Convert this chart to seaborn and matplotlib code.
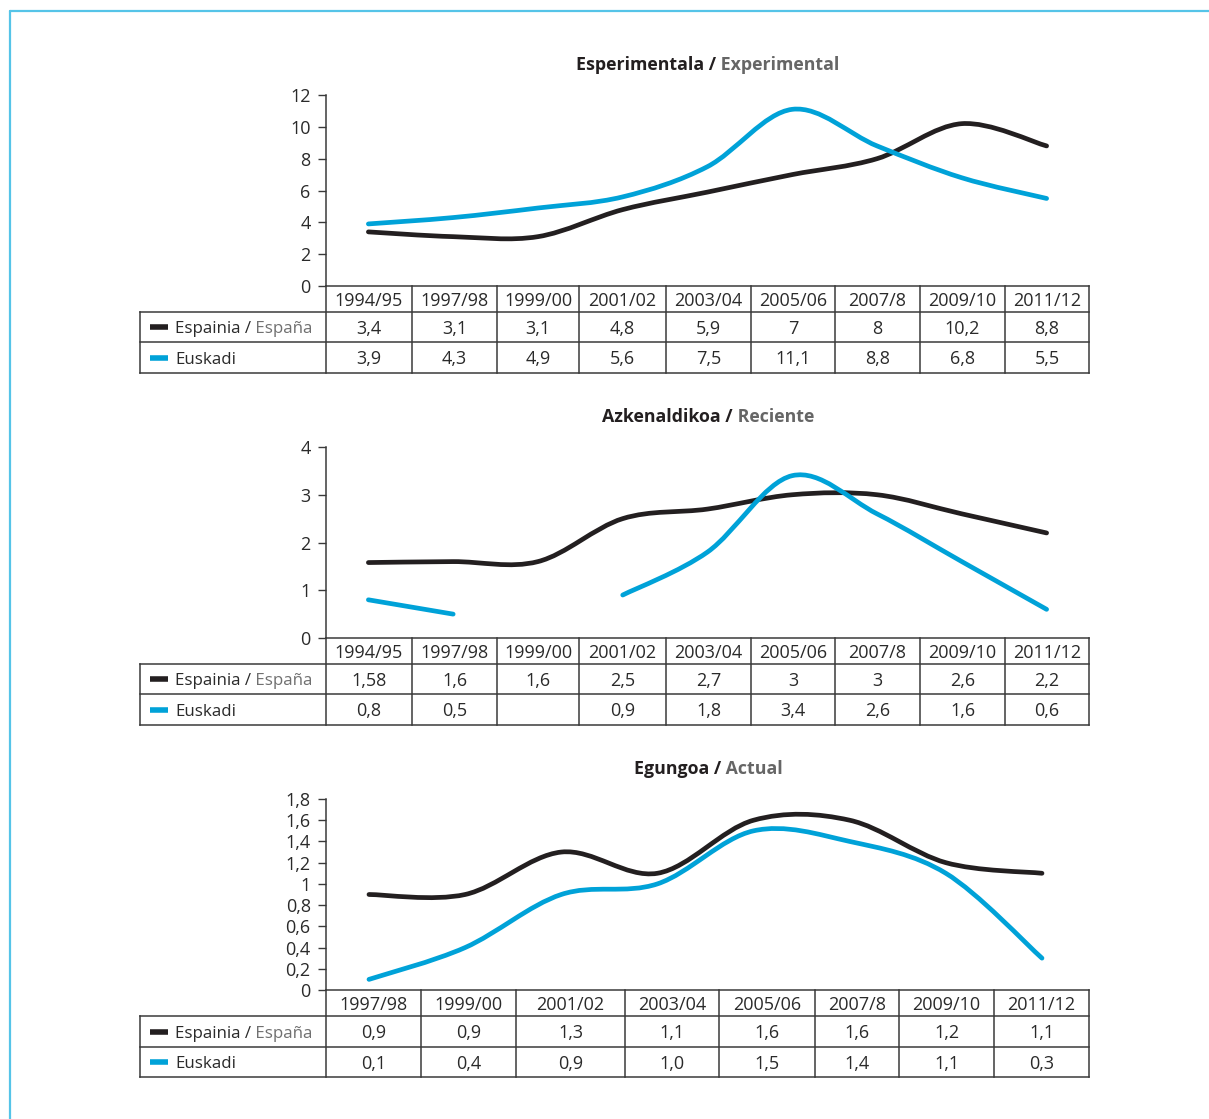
import matplotlib
matplotlib.use("Agg")
import numpy as np
import pandas as pd
import matplotlib.pyplot as plt
import seaborn as sns
from matplotlib.lines import Line2D
from matplotlib.path import Path
from matplotlib.patheffects import AbstractPathEffect
from matplotlib.transforms import IdentityTransform

# ---------------- data ----------------
periods_long = ["1994/95", "1997/98", "1999/00", "2001/02", "2003/04",
                "2005/06", "2007/8", "2009/10", "2011/12"]
periods_short = ["1997/98", "1999/00", "2001/02", "2003/04",
                 "2005/06", "2007/8", "2009/10", "2011/12"]

exp_spain = [3.4, 3.1, 3.1, 4.8, 5.9, 7, 8, 10.2, 8.8]
exp_euskadi = [3.9, 4.3, 4.9, 5.6, 7.5, 11.1, 8.8, 6.8, 5.5]

rec_spain = [1.58, 1.6, 1.6, 2.5, 2.7, 3, 3, 2.6, 2.2]
rec_euskadi = [0.8, 0.5, None, 0.9, 1.8, 3.4, 2.6, 1.6, 0.6]

act_spain = [0.9, 0.9, 1.3, 1.1, 1.6, 1.6, 1.2, 1.1]
act_euskadi = [0.1, 0.4, 0.9, 1.0, 1.5, 1.4, 1.1, 0.3]

titles = [("Esperimentala /", " Experimental"),
          ("Azkenaldikoa /", " Reciente"),
          ("Egungoa /", " Actual")]
y_ticks = [[0, 2, 4, 6, 8, 10, 12],
           [0, 1, 2, 3, 4],
           [0, 0.2, 0.4, 0.6, 0.8, 1, 1.2, 1.4, 1.6, 1.8]]

# ---------------- style ----------------
sns.set_theme(style="ticks")
plt.rcParams["font.family"] = ["Open Sans", "DejaVu Sans"]

BLACK = "#231f20"
BLUE = "#00a2d8"
GRAY = "#707070"
TEXT = "#2a2a2a"
GRID = "#3a3a3a"
FRAME = "#55c4e8"
FS = 13
FS_LABEL = 12.2
FS_TITLE = 12.8

W, H = 1209, 1119
fig = plt.figure(figsize=(W / 100, H / 100), dpi=100)
fig.patch.set_facecolor("white")


def px_axes(x0, y0, x1, y1):
    return fig.add_axes([x0 / W, 1 - y1 / H, (x1 - x0) / W, (y1 - y0) / H])


class SmoothCurve(AbstractPathEffect):
    """Renders a polyline as a smooth Catmull-Rom style Bezier curve."""

    def draw_path(self, renderer, gc, tpath, affine, rgbFace=None):
        pts = affine.transform(tpath.vertices)
        pts = pts[np.isfinite(pts).all(axis=1)]
        if len(pts) < 3:
            renderer.draw_path(gc, Path(pts), IdentityTransform(), rgbFace)
            return
        p = np.vstack([pts[0], pts, pts[-1]])
        verts, codes = [pts[0]], [Path.MOVETO]
        for i in range(1, len(p) - 2):
            p0, p1, p2, p3 = p[i - 1], p[i], p[i + 1], p[i + 2]
            verts += [p1 + (p2 - p0) / 6, p2 - (p3 - p1) / 6, p2]
            codes += [Path.CURVE4] * 3
        renderer.draw_path(gc, Path(verts, codes), IdentityTransform(), rgbFace)


def long_frame(spain, euskadi):
    rows = []
    for name, vals in (("Espainia", spain), ("Euskadi", euskadi)):
        seg = 0
        for i, v in enumerate(vals):
            if v is None:
                seg += 1
                continue
            rows.append({"x": i, "value": v, "series": name, "segment": seg})
    return pd.DataFrame(rows)


def two_tone(x_px, y_px, parts, ha="center", va="center_baseline", bold=False, size=FS):
    renderer = fig.canvas.get_renderer()
    texts = []
    for s, c in parts:
        t = fig.text(0, 1 - y_px / H, s, color=c, fontsize=size,
                     fontweight="bold" if bold else "normal", va=va, ha="left")
        texts.append(t)
    widths = [t.get_window_extent(renderer).width for t in texts]
    x = x_px - (sum(widths) / 2 if ha == "center" else 0)
    for t, w in zip(texts, widths):
        t.set_x(x / W)
        x += w


panels = [
    dict(spain=exp_spain, euskadi=exp_euskadi, periods=periods_long,
         top=95, bottom=286, rows=(312, 342, 373), title_y=63,
         bounds=[326, 412, 497, 579, 666, 751, 835, 920, 1005, 1089],
         xlim=(-0.5, 8.5), fmt=lambda v: f"{v:g}"),
    dict(spain=rec_spain, euskadi=rec_euskadi, periods=periods_long,
         top=447, bottom=638, rows=(664, 694, 725), title_y=415,
         bounds=[326, 412, 497, 579, 666, 751, 835, 920, 1005, 1089],
         xlim=(-0.5, 8.5), fmt=lambda v: f"{v:g}"),
    dict(spain=act_spain, euskadi=act_euskadi, periods=periods_short,
         top=799, bottom=990, rows=(1016, 1047, 1077), title_y=767,
         bounds=[326, 421, 516, 625, 719, 815, 899, 994, 1089],
         xlim=(-0.447, 7.489), fmt=lambda v: f"{v:.1f}"),
]

for k, pnl in enumerate(panels):
    # ---- line chart ----
    ax = px_axes(326, pnl["top"], 1089, pnl["bottom"])
    df = long_frame(pnl["spain"], pnl["euskadi"])
    sns.lineplot(data=df, x="x", y="value", hue="series", units="segment",
                 estimator=None, palette={"Espainia": BLACK, "Euskadi": BLUE},
                 hue_order=["Espainia", "Euskadi"], linewidth=3.4,
                 solid_capstyle="round", legend=False, ax=ax)
    for ln in ax.lines:
        ln.set_path_effects([SmoothCurve()])
    ax.set_xlim(*pnl["xlim"])
    ticks = y_ticks[k]
    ax.set_ylim(0, ticks[-1])
    ax.set_yticks(ticks)
    ax.set_yticklabels([f"{t:g}".replace(".", ",") for t in ticks])
    for lab in ax.get_yticklabels():
        lab.set_va("center_baseline")
    ax.set_xticks([])
    ax.set_xlabel("")
    ax.set_ylabel("")
    ax.set_facecolor("none")
    for side in ("top", "right", "bottom"):
        ax.spines[side].set_visible(False)
    ax.spines["left"].set_color(GRID)
    ax.spines["left"].set_linewidth(1.1)
    ax.tick_params(axis="y", direction="out", length=6, width=1.0,
                   color=GRID, pad=5, labelsize=FS, labelcolor=TEXT)

    # ---- title ----
    two_tone(708, pnl["title_y"], [(titles[k][0], BLACK), (titles[k][1], "#666666")],
             bold=True, size=FS_TITLE)

    # ---- data table ----
    cb = pnl["bottom"]
    r0, r1, r2 = pnl["rows"]
    b = pnl["bounds"]
    tx = px_axes(140, cb, 1089, r2)
    tx.set_xlim(140, 1089)
    tx.set_ylim(r2, cb)
    tx.axis("off")
    lk = dict(color=GRID, lw=1.1, clip_on=False, solid_capstyle="projecting")
    tx.plot([b[0], b[-1]], [cb, cb], **lk)
    for yy in (r0, r1, r2):
        tx.plot([140, b[-1]], [yy, yy], **lk)
    tx.plot([140, 140], [r0, r2], **lk)
    for xx in b:
        tx.plot([xx, xx], [cb, r2], **lk)

    hy = (cb + r0) / 2
    y1 = (r0 + r1) / 2
    y2 = (r1 + r2) / 2
    for i, lab in enumerate(pnl["periods"]):
        xm = (b[i] + b[i + 1]) / 2
        tx.text(xm, hy, lab, ha="center", va="center_baseline", fontsize=FS, color=TEXT)
        for yy, vals in ((y1, pnl["spain"]), (y2, pnl["euskadi"])):
            v = vals[i]
            if v is not None:
                tx.text(xm, yy, pnl["fmt"](v).replace(".", ","), ha="center",
                        va="center_baseline", fontsize=FS, color=TEXT)

    # legend swatches and series names
    for yy, col in ((y1, BLACK), (y2, BLUE)):
        tx.plot([150, 168], [yy, yy], color=col, lw=4, solid_capstyle="butt",
                clip_on=False)
    tx.text(175, y2, "Euskadi", ha="left", va="center_baseline", fontsize=FS_LABEL,
            color=TEXT)
    two_tone(175, y1, [("Espainia /", TEXT), (" España", GRAY)], ha="left",
             size=FS_LABEL)

# ---- frame ----
fig.add_artist(Line2D([10 / W, 1], [1 - 11 / H, 1 - 11 / H], transform=fig.transFigure,
                      color=FRAME, lw=1.6))
fig.add_artist(Line2D([10 / W, 10 / W], [0, 1 - 11 / H], transform=fig.transFigure,
                      color=FRAME, lw=1.6))

fig.savefig("out.png", dpi=100, facecolor="white")
